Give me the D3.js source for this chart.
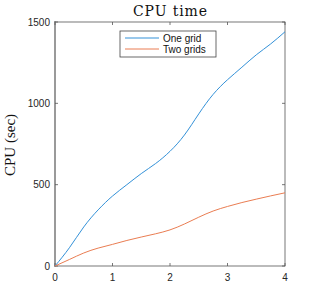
<!DOCTYPE html>
<html>
<head>
<meta charset="utf-8">
<script src="https://cdn.jsdelivr.net/npm/d3@7"></script>
<style>
  html, body { margin: 0; padding: 0; background: #fff; }
  svg text { font-family: "Liberation Sans", Arial, sans-serif; }
</style>
</head>
<body>
<div id="chart"></div>
<script>
// ---- data ----
var xs        = [0, 0.25, 0.5, 0.75, 1.0, 1.25, 1.5, 1.75, 2.0, 2.25, 2.5, 2.75, 3.0, 3.25, 3.5, 3.75, 4.0];
var oneGrid   = [0, 112, 240, 345, 430, 500, 568, 630, 705, 805, 935, 1055, 1145, 1222, 1298, 1365, 1440];
var twoGrids  = [0, 40, 80, 110, 133, 157, 178, 198, 222, 258, 300, 338, 366, 390, 411, 431, 450];
var xTicks    = [0, 1, 2, 3, 4];
var yTicks    = [0, 500, 1000, 1500];
var seriesNames = ['One grid', 'Two grids'];
var seriesColors = ['#3391d8', '#ea7d52'];

(function () {
  'use strict';

  var W = 316, H = 300;
  var m = { left: 55, right: 31, top: 22, bottom: 34 };

  var svg = d3.select('#chart').append('svg')
    .attr('width', W).attr('height', H);

  var x = d3.scaleLinear().domain([0, 4]).range([m.left, W - m.right]);
  var y = d3.scaleLinear().domain([0, 1500]).range([H - m.bottom, m.top]);

  var axisColor = '#262626';

  // box
  svg.append('rect')
    .attr('x', x(0)).attr('y', y(1500))
    .attr('width', x(4) - x(0)).attr('height', y(0) - y(1500))
    .attr('fill', 'none').attr('stroke', '#555').attr('stroke-width', 0.8);

  // left spine drawn heavier, as in the reference
  svg.append('line')
    .attr('x1', x(0)).attr('x2', x(0))
    .attr('y1', y(0) + 1).attr('y2', y(1500) - 1)
    .attr('stroke', '#9a9a9a').attr('stroke-width', 2);

  // ticks inward on all four sides
  var tk = 3;
  var g = svg.append('g');
  xTicks.forEach(function (t) {
    g.append('line').attr('x1', x(t)).attr('x2', x(t))
      .attr('y1', y(0)).attr('y2', y(0) - tk).attr('stroke', '#555').attr('stroke-width', 0.8);
    g.append('line').attr('x1', x(t)).attr('x2', x(t))
      .attr('y1', y(1500)).attr('y2', y(1500) + tk).attr('stroke', '#555').attr('stroke-width', 0.8);
    g.append('text').text(t)
      .attr('x', x(t)).attr('y', y(0) + 15)
      .attr('text-anchor', 'middle').attr('font-size', 10).attr('fill', axisColor);
  });
  yTicks.forEach(function (t) {
    g.append('line').attr('x1', x(0)).attr('x2', x(0) + tk)
      .attr('y1', y(t)).attr('y2', y(t)).attr('stroke', '#555').attr('stroke-width', 0.8);
    g.append('line').attr('x1', x(4)).attr('x2', x(4) - tk)
      .attr('y1', y(t)).attr('y2', y(t)).attr('stroke', '#555').attr('stroke-width', 0.8);
    g.append('text').text(t)
      .attr('x', x(0) - 5).attr('y', y(t) + 3.5)
      .attr('text-anchor', 'end').attr('font-size', 10).attr('fill', axisColor);
  });

  // lines
  var line = d3.line()
    .x(function (d) { return x(d[0]); })
    .y(function (d) { return y(d[1]); })
    .curve(d3.curveNatural);

  [oneGrid, twoGrids].forEach(function (vals, i) {
    svg.append('path')
      .datum(xs.map(function (xv, j) { return [xv, vals[j]]; }))
      .attr('d', line)
      .attr('fill', 'none')
      .attr('stroke', seriesColors[i])
      .attr('stroke-width', 1);
  });

  // title
  svg.append('text').text('CPU time')
    .attr('x', 170).attr('y', 16)
    .attr('text-anchor', 'middle')
    .attr('font-size', 14)
    .attr('textLength', 74).attr('lengthAdjust', 'spacing')
    .style('font-family', '"DejaVu Serif", serif')
    .attr('fill', '#111');

  // y label
  svg.append('text').text('CPU (sec)')
    .attr('transform', 'translate(15,145) rotate(-90)')
    .attr('text-anchor', 'middle')
    .attr('font-size', 15)
    .style('font-family', '"Liberation Serif", serif')
    .attr('fill', '#111');

  // legend
  var lg = svg.append('g').attr('transform', 'translate(120,31)');
  lg.append('rect').attr('width', 96).attr('height', 26)
    .attr('fill', '#fff').attr('stroke', '#444').attr('stroke-width', 0.8);
  seriesNames.forEach(function (name, i) {
    var yy = 7 + i * 11;
    lg.append('line').attr('x1', 5).attr('x2', 39)
      .attr('y1', yy).attr('y2', yy)
      .attr('stroke', seriesColors[i]).attr('stroke-width', 1);
    lg.append('text').text(name)
      .attr('x', 43).attr('y', yy + 3.5)
      .attr('font-size', 10).attr('fill', '#111');
  });
})();
</script>
</body>
</html>
